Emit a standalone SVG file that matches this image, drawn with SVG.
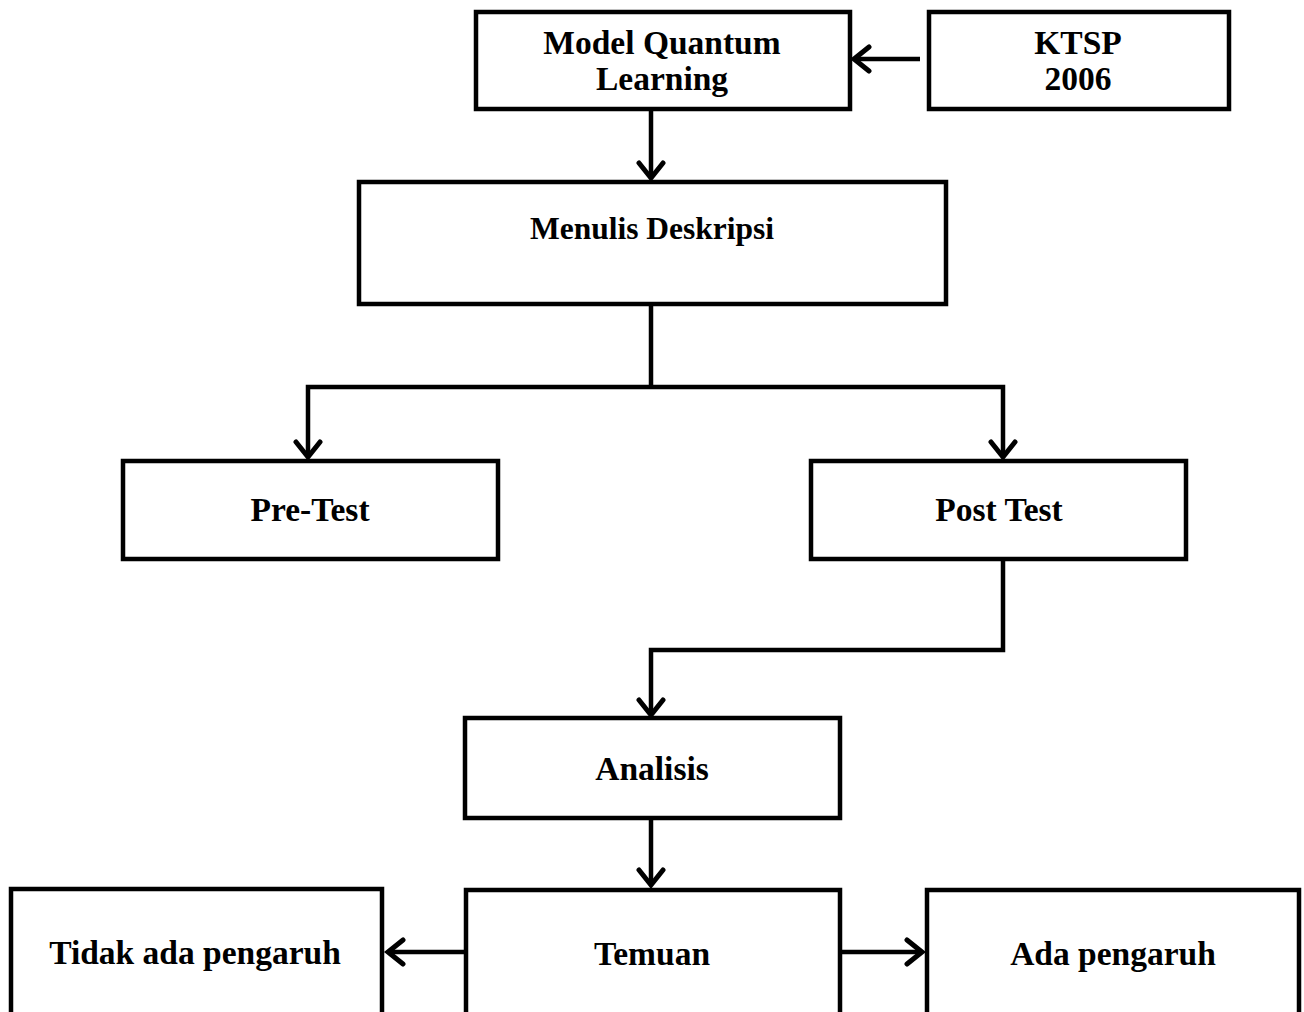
<svg xmlns="http://www.w3.org/2000/svg" width="1304" height="1012" viewBox="0 0 1304 1012">
<style>
.box{fill:#fff;stroke:#000;stroke-width:4.5}
.lbl{font-family:"Liberation Serif","Times New Roman",serif;font-weight:bold;font-size:33.5px;fill:#000;text-anchor:middle}
.con{fill:none;stroke:#000;stroke-width:4.5;stroke-linejoin:miter}
</style>
<defs>
<marker id="ah" markerUnits="userSpaceOnUse" markerWidth="30" markerHeight="30" viewBox="-20 -15 30 30" refX="0" refY="0" orient="auto">
<path d="M-15,-12 L0,0 L-15,12" fill="none" stroke="#000" stroke-width="5" stroke-linecap="round"/>
</marker>
</defs>
<rect width="1304" height="1012" fill="#fff"/>
<g id="connectors">
<path class="con" d="M920,59 H854" marker-end="url(#ah)"/>
<path class="con" d="M651,110 V178" marker-end="url(#ah)"/>
<path class="con" d="M651,304 V387"/>
<path class="con" d="M651,387 H308 V457" marker-end="url(#ah)"/>
<path class="con" d="M651,387 H1003 V457" marker-end="url(#ah)"/>
<path class="con" d="M1003,561 V650 H651 V715" marker-end="url(#ah)"/>
<path class="con" d="M651,818 V885" marker-end="url(#ah)"/>
<path class="con" d="M465,952 H388" marker-end="url(#ah)"/>
<path class="con" d="M840,952 H922" marker-end="url(#ah)"/>
</g>
<g id="node-mql"><rect class="box" x="476" y="12" width="374" height="97"/>
<text class="lbl" x="662" y="54">Model Quantum</text><text class="lbl" x="662" y="90">Learning</text></g>
<g id="node-ktsp"><rect class="box" x="929" y="12" width="300" height="97"/>
<text class="lbl" x="1078" y="54">KTSP</text><text class="lbl" x="1078" y="90">2006</text></g>
<g id="node-menulis"><rect class="box" x="359" y="182" width="587" height="122"/>
<text class="lbl" x="652" y="239" style="font-size:31.5px">Menulis Deskripsi</text></g>
<g id="node-pretest"><rect class="box" x="123" y="461" width="375" height="98"/>
<text class="lbl" x="310" y="521">Pre-Test</text></g>
<g id="node-posttest"><rect class="box" x="811" y="461" width="375" height="98"/>
<text class="lbl" x="999" y="521">Post Test</text></g>
<g id="node-analisis"><rect class="box" x="465" y="718" width="375" height="100"/>
<text class="lbl" x="652" y="780">Analisis</text></g>
<g id="node-temuan"><rect class="box" x="466" y="890" width="374" height="140"/>
<text class="lbl" x="652" y="965">Temuan</text></g>
<g id="node-tidak"><rect class="box" x="11" y="889" width="371" height="140"/>
<text class="lbl" x="195" y="964">Tidak ada pengaruh</text></g>
<g id="node-ada"><rect class="box" x="927" y="890" width="372" height="140"/>
<text class="lbl" x="1113" y="965">Ada pengaruh</text></g>
</svg>
